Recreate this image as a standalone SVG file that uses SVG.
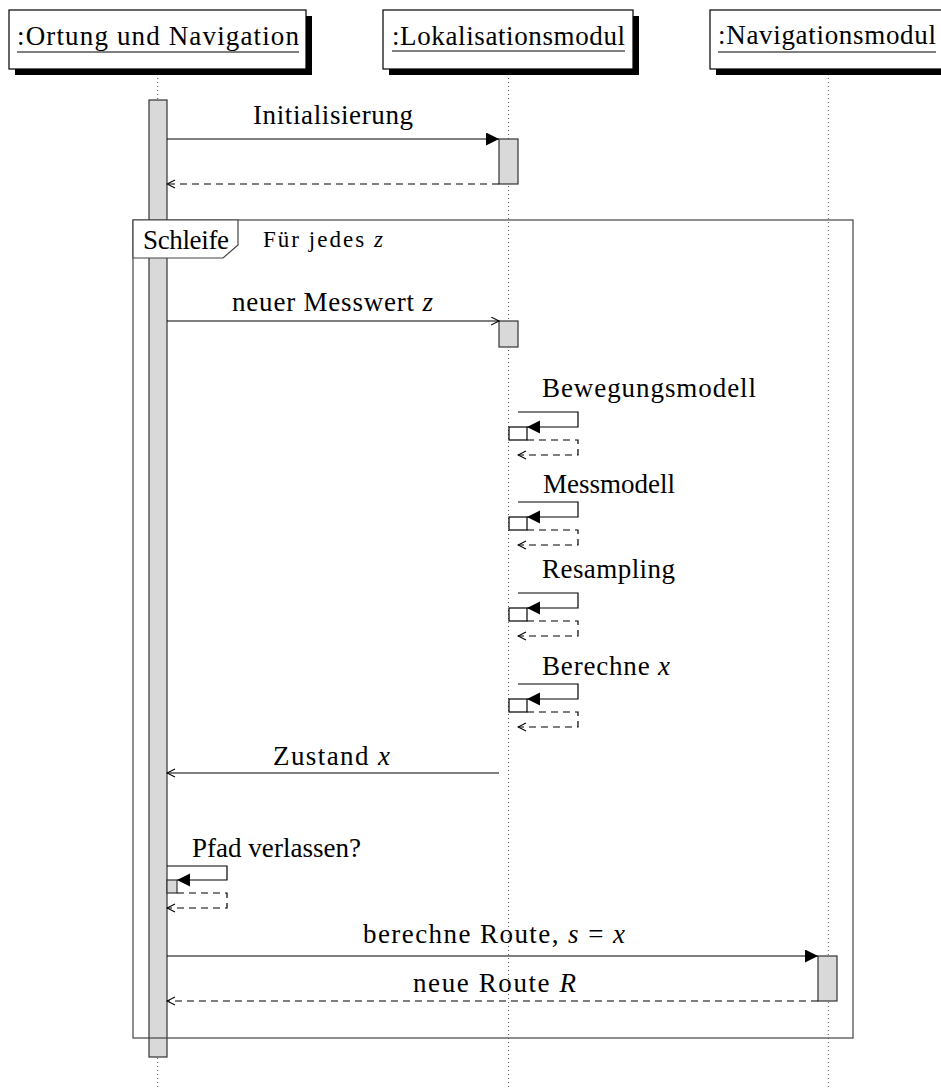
<svg xmlns="http://www.w3.org/2000/svg" width="941" height="1088" viewBox="0 0 941 1088">
<style>
text{font-family:"Liberation Serif","Times New Roman",serif;font-size:27px;fill:#000}
.small{font-size:23px}
.it{font-style:italic}
.life{stroke:#555;stroke-width:1;stroke-dasharray:1 3;fill:none}
.act{fill:#d9d9d9;stroke:#333;stroke-width:1.2}
.box{fill:#fff;stroke:#000;stroke-width:1.2}
.shadow{fill:#000}
.msg{stroke:#000;stroke-width:1.2;fill:none}
.ret{stroke:#000;stroke-width:1.2;fill:none;stroke-dasharray:7 5}
.frame{fill:none;stroke:#444;stroke-width:1.2}
.ul{stroke:#000;stroke-width:1.2}
</style>
<defs>
<marker id="filled" markerUnits="userSpaceOnUse" markerWidth="14" markerHeight="14" refX="13" refY="6.5" orient="auto"><path d="M0,0 L13,6.5 L0,13 Z" fill="#000"/></marker>
<marker id="open" markerUnits="userSpaceOnUse" markerWidth="10" markerHeight="10" refX="8.5" refY="4.5" orient="auto"><path d="M0.5,0.5 L8.5,4.5 L0.5,8.5" fill="none" stroke="#000" stroke-width="1.1"/></marker>
</defs>

<!-- lifelines -->
<g id="lifelines">
<line class="life" x1="157.7" y1="70" x2="157.7" y2="1088"/>
<line class="life" x1="508.5" y1="70" x2="508.5" y2="1088"/>
<line class="life" x1="828.3" y1="70" x2="828.3" y2="1088"/>
</g>

<!-- headers -->
<g id="ortung">
<rect class="shadow" x="15" y="16" width="297" height="59"/>
<rect class="box" x="9" y="10" width="297" height="59"/>
<text x="17" y="45" textLength="282">:Ortung und Navigation</text>
<line class="ul" x1="17" y1="52" x2="299" y2="52"/>
</g>
<g id="lokalisation">
<rect class="shadow" x="389" y="16" width="250" height="59"/>
<rect class="box" x="383" y="10" width="250" height="59"/>
<text x="392" y="45" textLength="233">:Lokalisationsmodul</text>
<line class="ul" x1="392" y1="51" x2="625" y2="51"/>
</g>
<g id="navigation">
<rect class="shadow" x="716" y="16" width="240" height="59"/>
<rect class="box" x="710" y="10" width="240" height="59"/>
<text x="718" y="44" textLength="218">:Navigationsmodul</text>
<line class="ul" x1="718" y1="52" x2="936" y2="52"/>
</g>

<!-- activation bars -->
<g id="activations">
<rect class="act" x="149" y="100" width="18" height="957"/>
<rect class="act" x="499" y="139" width="19" height="45"/>
<rect class="act" x="499" y="321" width="19" height="26"/>
<rect class="act" x="818" y="956" width="19" height="45"/>
</g>

<!-- loop frame -->
<g id="loop">
<rect class="frame" x="133" y="220" width="720" height="818"/>
<path d="M133,220 H238 V245 L223,258 H133 Z" fill="#fff" stroke="#444" stroke-width="1.2"/>
<text x="143" y="249" textLength="86">Schleife</text>
<text class="small" x="263" y="247" textLength="120">Für jedes <tspan class="it">z</tspan></text>
</g>

<!-- connectors -->
<g id="connectors">
<line class="msg" x1="167" y1="139" x2="499" y2="139" marker-end="url(#filled)"/>
<line class="ret" x1="499" y1="184" x2="167" y2="184" marker-end="url(#open)"/>
<line class="msg" x1="167" y1="321" x2="499" y2="321" marker-end="url(#open)"/>

<path class="msg" d="M518,412 H578 V427 H527" marker-end="url(#filled)"/>
<rect x="509" y="427" width="18" height="13" fill="#fff" stroke="#000" stroke-width="1.2"/>
<path class="ret" d="M527,440 H578 V455 H518" marker-end="url(#open)"/>

<path class="msg" d="M518,502 H578 V517 H527" marker-end="url(#filled)"/>
<rect x="509" y="517" width="18" height="13" fill="#fff" stroke="#000" stroke-width="1.2"/>
<path class="ret" d="M527,530 H578 V545 H518" marker-end="url(#open)"/>

<path class="msg" d="M518,593 H578 V608 H527" marker-end="url(#filled)"/>
<rect x="509" y="608" width="18" height="13" fill="#fff" stroke="#000" stroke-width="1.2"/>
<path class="ret" d="M527,621 H578 V636 H518" marker-end="url(#open)"/>

<path class="msg" d="M518,684 H578 V699 H527" marker-end="url(#filled)"/>
<rect x="509" y="699" width="18" height="13" fill="#fff" stroke="#000" stroke-width="1.2"/>
<path class="ret" d="M527,712 H578 V727 H518" marker-end="url(#open)"/>

<line class="msg" x1="499" y1="773" x2="167" y2="773" marker-end="url(#open)"/>

<path class="msg" d="M167,866 H227 V880 H177" marker-end="url(#filled)"/>
<rect x="167" y="880" width="10" height="13" fill="#d9d9d9" stroke="#333" stroke-width="1.2"/>
<path class="ret" d="M177,893 H227 V908 H167" marker-end="url(#open)"/>

<line class="msg" x1="167" y1="956" x2="818" y2="956" marker-end="url(#filled)"/>
<line class="ret" x1="818" y1="1001" x2="167" y2="1001" marker-end="url(#open)"/>
</g>

<!-- labels -->
<g id="labels">
<text x="253" y="124" textLength="160">Initialisierung</text>
<text x="232" y="311" textLength="201">neuer Messwert <tspan class="it">z</tspan></text>
<text x="542" y="397" textLength="214">Bewegungsmodell</text>
<text x="543" y="493" textLength="132">Messmodell</text>
<text x="542" y="578" textLength="133">Resampling</text>
<text x="542" y="675" textLength="128">Berechne <tspan class="it">x</tspan></text>
<text x="273" y="765" textLength="117">Zustand <tspan class="it">x</tspan></text>
<text x="192" y="857" textLength="169">Pfad verlassen?</text>
<text x="363" y="943" textLength="262">berechne Route, <tspan class="it">s</tspan> = <tspan class="it">x</tspan></text>
<text x="413" y="992" textLength="163">neue Route <tspan class="it">R</tspan></text>
</g>
</svg>
